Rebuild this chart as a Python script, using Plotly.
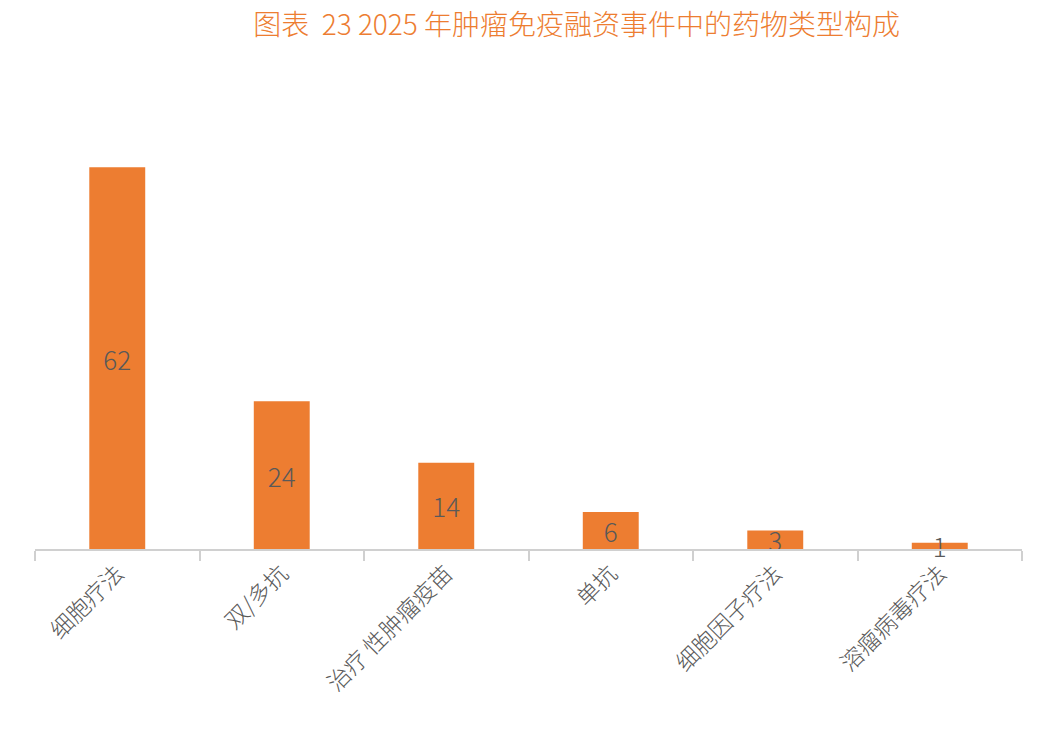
import plotly.graph_objects as go

categories = ["细胞疗法", "双/多抗", "治疗 性肿瘤疫苗", "单抗", "细胞因子疗法", "溶瘤病毒疗法"]
values = [62, 24, 14, 6, 3, 1]
title_text = "图表  23 2025 年肿瘤免疫融资事件中的药物类型构成"

fig = go.Figure()
fig.add_trace(go.Bar(
    x=categories, y=values,
    marker=dict(color="#ED7D31", line=dict(width=0)),
    text=[str(v) for v in values],
    textposition="inside",
    insidetextanchor="middle",
    textangle=0,
    constraintext="none",
    textfont=dict(family="Noto Sans CJK SC, Noto Sans, sans-serif", size=26, color="#595959", weight=300),
    cliponaxis=False,
))

fig.update_layout(
    width=1064, height=741,
    margin=dict(l=35, r=42, t=118, b=192),
    paper_bgcolor="white", plot_bgcolor="white",
    bargap=0.66,
    showlegend=False,
    title=dict(text=title_text, x=0.542, xanchor="center", y=0.966, yanchor="middle",
               font=dict(family="Noto Sans CJK SC, sans-serif", size=28, color="#ED7D31", weight=300)),
    font=dict(family="Noto Sans CJK SC, sans-serif"),
)
fig.update_xaxes(
    type="category",
    showline=True, linecolor="#D0D0D0", linewidth=2,
    ticks="outside", tickson="boundaries", ticklen=10, tickcolor="#D0D0D0", tickwidth=2,
    tickangle=-45,
    tickfont=dict(family="Noto Sans CJK SC, sans-serif", size=23, color="#595959", weight=300),
    showgrid=False,
)
fig.update_yaxes(range=[0, 70], visible=False, showgrid=False, zeroline=False)

fig.write_html("out.html")
